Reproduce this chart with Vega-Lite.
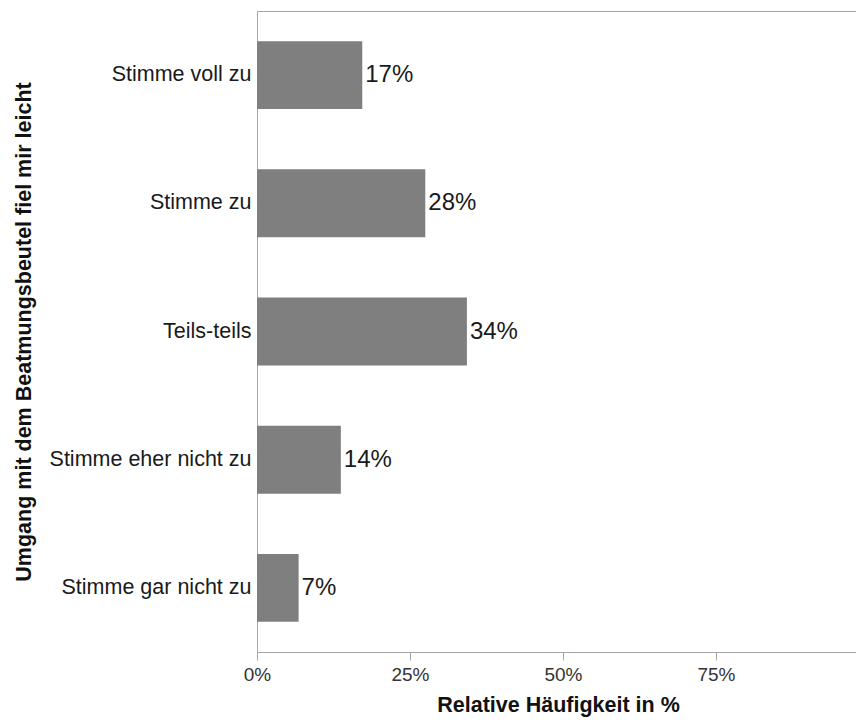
{
  "$schema": "https://vega.github.io/schema/vega-lite/v6.json",
  "autosize": {"type": "none"},
  "padding": {"left": 257, "top": 11, "right": 0, "bottom": 70},
  "width": 599,
  "height": 641,
  "background": "white",
  "config": {
    "view": {"stroke": null},
    "font": "Liberation Sans",
    "axis": {"domainColor": "#a6a6a6", "tickColor": "#a6a6a6", "grid": false, "labelFont": "Liberation Sans", "titleFont": "Liberation Sans"}
  },
  "data": {
    "values": [
      {"kategorie": "Stimme voll zu", "anteil": 0.172, "label": "17%"},
      {"kategorie": "Stimme zu", "anteil": 0.275, "label": "28%"},
      {"kategorie": "Teils-teils", "anteil": 0.343, "label": "34%"},
      {"kategorie": "Stimme eher nicht zu", "anteil": 0.137, "label": "14%"},
      {"kategorie": "Stimme gar nicht zu", "anteil": 0.068, "label": "7%"}
    ]
  },
  "encoding": {
    "y": {
      "field": "kategorie",
      "type": "nominal",
      "sort": null,
      "scale": {"paddingInner": 0.47, "paddingOuter": 0.235},
      "axis": {
        "title": "Umgang mit dem Beatmungsbeutel fiel mir leicht",
        "titleFontSize": 21.5,
        "titleFontWeight": "bold",
        "titleColor": "#111111",
        "titlePadding": 22,
        "labelFontSize": 21.5,
        "labelColor": "#1a1a1a",
        "labelPadding": 6,
        "ticks": false,
        "labelLimit": 300
      }
    }
  },
  "layer": [
    {
      "mark": {"type": "bar", "color": "#7f7f7f"},
      "encoding": {
        "x": {
          "field": "anteil",
          "type": "quantitative",
          "scale": {"domain": [0, 0.9788], "nice": false, "zero": true},
          "axis": {
            "orient": "bottom",
            "values": [0, 0.25, 0.5, 0.75],
            "format": ".0%",
            "title": "Relative Häufigkeit in %",
            "titleFontSize": 21.5,
            "titleFontWeight": "bold",
            "titleColor": "#111111",
            "titleAnchor": "middle",
            "titleX": 301,
            "titlePadding": 10,
            "labelFontSize": 19,
            "labelColor": "#333333",
            "tickSize": 8,
            "labelPadding": 5,
            "labelFlush": false
          }
        }
      }
    },
    {
      "mark": {"type": "text", "align": "left", "baseline": "middle", "dx": 3, "fontSize": 24, "color": "#1a1a1a"},
      "encoding": {
        "x": {
          "field": "anteil",
          "type": "quantitative",
          "axis": {"orient": "top", "labels": false, "ticks": false, "title": null, "domainColor": "#a6a6a6"}
        },
        "text": {"field": "label"}
      }
    }
  ],
  "resolve": {"axis": {"x": "independent"}}
}
